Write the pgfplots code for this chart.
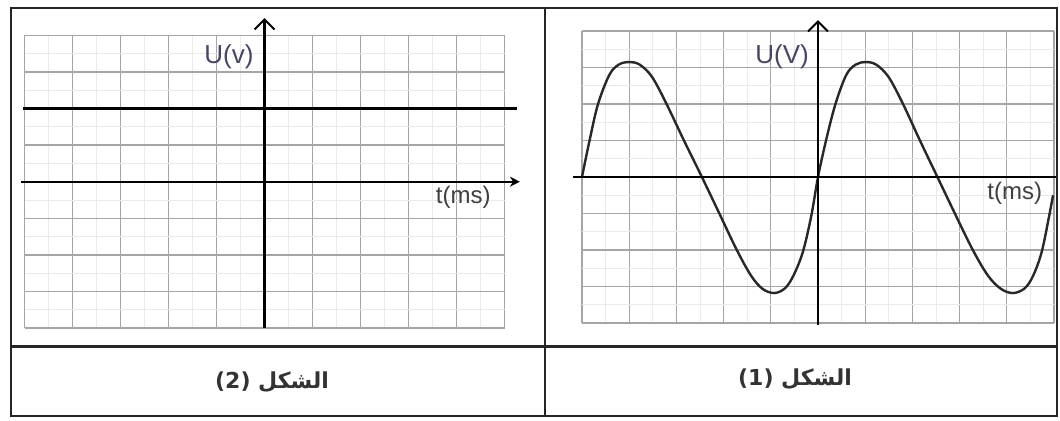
\documentclass[border=0pt]{standalone}
\usepackage{fontspec}
\setmainfont{Liberation Sans}
\newfontfamily\arabicfont[Script=Arabic]{DejaVu Sans}
\TeXXeTstate=1
\usepackage{pgfplots}
\pgfplotsset{compat=1.18}
\usetikzlibrary{arrows.meta}
\definecolor{gridc}{RGB}{165,165,165}
\definecolor{minorc}{RGB}{234,234,234}
\definecolor{labc}{RGB}{70,70,100}
\definecolor{curvec}{RGB}{40,40,40}

\pgfplotsset{panel/.style={
  scale only axis, anchor=south west,
  xmin=-5, xmax=5, ymin=-4, ymax=4,
  xtick={-5,...,5}, ytick={-4,...,4},
  minor xtick={-4.5,-3.5,...,4.5}, minor ytick={-3.5,-2.5,...,3.5},
  grid=both,
  major grid style={gridc, line width=0.65pt},
  minor grid style={minorc, line width=0.4pt},
  xticklabels={}, yticklabels={},
  major tick length=0pt, minor tick length=0pt,
  axis line style={draw=none},
  clip=false}}

\pgfplotstableread{
x y
-5.00 0.00
-4.84 1.00
-4.66 2.00
-4.42 2.80
-4.22 3.08
-4.00 3.15
-3.78 3.08
-3.52 2.75
-3.22 2.03
-2.84 1.00
-2.46 0.00
-2.09 -1.00
-1.72 -2.00
-1.42 -2.70
-1.18 -3.06
-0.93 -3.18
-0.70 -3.05
-0.52 -2.70
-0.32 -2.05
-0.14 -1.05
0.00 0.00
0.17 1.00
0.37 2.00
0.60 2.80
0.80 3.08
1.01 3.15
1.23 3.08
1.49 2.75
1.79 2.03
2.16 1.00
2.53 0.00
2.90 -1.00
3.28 -2.00
3.60 -2.70
3.87 -3.06
4.13 -3.18
4.38 -3.05
4.56 -2.70
4.74 -2.05
4.90 -1.05
4.98 -0.50
}\sinedata

\begin{document}
\begin{tikzpicture}
\fill[white] (0pt,0pt) rectangle (530pt,-210.5pt);

% left panel : figure (2)
\begin{axis}[panel, at={(12.25pt,-164.05pt)}, width=240pt, height=146.4pt]
  \addplot[black, line width=1.1pt] coordinates {(-5.03,2) (5.26,2)};
  \draw[black, line width=1.1pt, -{Stealth[length=5pt,width=5pt]}] (axis cs:-5.07,0) -- (axis cs:5.32,0);
  \draw[black, line width=1.1pt, -{Straight Barb[length=5pt,width=10pt,line width=1pt]}] (axis cs:0,-4) -- (axis cs:0,4.47);
  \node[labc, font=\fontsize{13}{13}\selectfont] at (axis cs:-0.74,3.41) {U(v)};
  \node[black!75, font=\fontsize{12}{12}\selectfont] at (axis cs:4.14,-0.42) {t(ms)};
\end{axis}

% right panel : figure (1)
\begin{axis}[panel, at={(291pt,-161.5pt)}, width=236pt, height=146pt]
  \addplot[curvec, line width=1.2pt, smooth, tension=0.55] table[x=x,y=y] {\sinedata};
  \draw[black, line width=1.1pt] (axis cs:-5.19,0) -- (axis cs:5.05,0);
  \draw[black, line width=1.1pt, -{Straight Barb[length=5pt,width=10pt,line width=1pt]}] (axis cs:0,-4.05) -- (axis cs:0,4.3);
  \node[labc, font=\fontsize{13}{13}\selectfont] at (axis cs:-0.76,3.29) {U(V)};
  \node[black!75, font=\fontsize{12}{12}\selectfont] at (axis cs:4.17,-0.44) {t(ms)};
\end{axis}

% table frame
\draw[black!85, line width=1.4pt] (5.5pt,-4pt) rectangle (528.5pt,-208pt);
\draw[black!85, line width=1.4pt] (272.5pt,-4pt) -- (272.5pt,-208pt);
\draw[black!85, line width=1.4pt] (5.5pt,-173.25pt) -- (528.5pt,-173.25pt);

% captions
\node[font=\arabicfont\bfseries\fontsize{11}{11}\selectfont, black!80] at (136pt,-191pt) {(2) \beginR الشكل\endR};
\node[font=\arabicfont\bfseries\fontsize{11}{11}\selectfont, black!80] at (397.5pt,-189.5pt) {(1) \beginR الشكل\endR};

\pgfresetboundingbox
\path (0pt,0pt) rectangle (530pt,-210.5pt);
\end{tikzpicture}
\end{document}
